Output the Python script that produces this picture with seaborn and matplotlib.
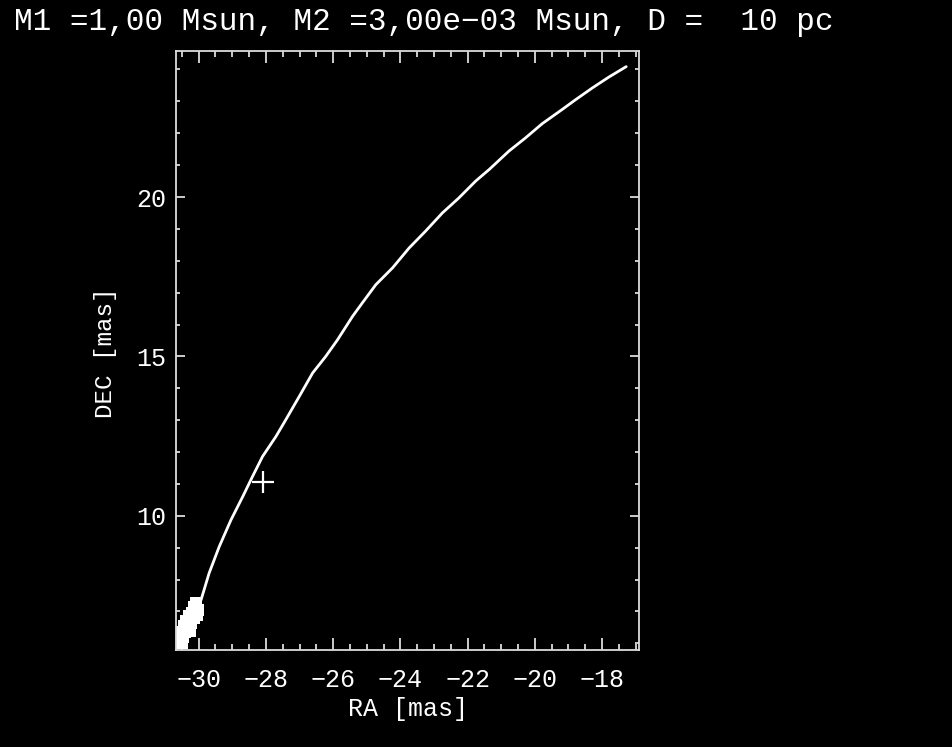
import numpy as np
import pandas as pd
import matplotlib
matplotlib.use("Agg")
import matplotlib.pyplot as plt
import seaborn as sns
from matplotlib.ticker import MultipleLocator

# Astrometric track of the primary (RA, DEC offsets in mas)
ra_track = [-30.55, -30.30, -29.93, -29.69, -29.39, -29.04, -28.69, -28.40,
            -28.10, -27.70, -27.41, -27.01, -26.61, -26.22, -25.87, -25.42,
            -25.13, -24.73, -24.23, -23.74, -23.25, -22.75, -22.26, -21.76,
            -21.36, -20.77, -20.27, -19.78, -19.18, -18.79, -18.29, -17.80,
            -17.28]
dec_track = [6.20, 6.85, 7.36, 8.20, 9.03, 9.87, 10.60, 11.23,
             11.86, 12.49, 13.01, 13.74, 14.48, 15.00, 15.52, 16.26,
             16.68, 17.25, 17.78, 18.40, 18.93, 19.50, 19.97, 20.50,
             20.86, 21.44, 21.86, 22.30, 22.75, 23.05, 23.42, 23.76,
             24.09]

# Dense group of positions at the start of the track
ra_group = [-30.08, -30.15, -30.10, -30.20, -30.13, -30.28, -30.22, -30.38,
            -30.30, -30.45, -30.40, -30.52, -30.48, -30.60, -30.55, -30.62,
            -30.05, -30.35, -30.02, -30.25, -30.50]
dec_group = [7.25, 7.15, 7.00, 6.95, 6.80, 6.85, 6.65, 6.70,
             6.50, 6.55, 6.35, 6.35, 6.20, 6.15, 6.05, 6.25,
             6.90, 6.45, 7.05, 6.40, 6.00]

# Reference position
ra_ref = [-28.10]
dec_ref = [11.07]

title_text = "M1 =1,00 Msun, M2 =3,00e\u221203 Msun, D =  10 pc"
x_label = "RA [mas]"
y_label = "DEC [mas]"

fg = "white"
axis_col = "#dcdcdc"
sns.set_style("dark", {"axes.facecolor": "black", "figure.facecolor": "black"})
plt.rcParams["font.family"] = ["Liberation Mono", "DejaVu Sans"]

fig = plt.figure(figsize=(9.52, 7.47), dpi=100)
ax = fig.add_axes([176 / 952, 1 - 650 / 747, (639 - 176) / 952, (650 - 51) / 747])
ax.set_facecolor("black")

track = pd.DataFrame({"RA": ra_track, "DEC": dec_track})
group = pd.DataFrame({"RA": ra_group, "DEC": dec_group})
ref = pd.DataFrame({"RA": ra_ref, "DEC": dec_ref})

sns.lineplot(data=track, x="RA", y="DEC", sort=False, color=fg, lw=2.0, ax=ax)
sns.scatterplot(data=group, x="RA", y="DEC", marker="s", s=80, color=fg,
                edgecolor=fg, linewidth=0, ax=ax)
sns.scatterplot(data=ref, x="RA", y="DEC", marker="+", s=240, color=fg,
                linewidth=1.6, ax=ax)

ax.set_xlim(-30.675, -16.90)
ax.set_ylim(5.79, 24.58)
ax.xaxis.set_major_locator(MultipleLocator(2))
ax.xaxis.set_minor_locator(MultipleLocator(0.5))
ax.yaxis.set_major_locator(MultipleLocator(5))
ax.yaxis.set_minor_locator(MultipleLocator(1))

ax.tick_params(which="both", direction="in", top=True, right=True,
               bottom=True, left=True, color=axis_col, width=1.3,
               labelcolor=fg, labelsize=18)
ax.tick_params(axis="x", which="major", length=8.6, pad=13)
ax.tick_params(axis="x", which="minor", length=4.3)
ax.tick_params(axis="y", which="major", length=6.5, pad=7)
ax.tick_params(axis="y", which="minor", length=3.2)
for s in ax.spines.values():
    s.set_color(axis_col)
    s.set_linewidth(1.3)
ax.grid(False)

ax.set_xlabel(x_label, color=fg, fontsize=18)
ax.set_ylabel(y_label, color=fg, fontsize=17.5)
ax.xaxis.set_label_coords(0.5, -0.078)
ax.yaxis.set_label_coords(-0.127, 0.497)

fig.text(424 / 952, 1 - 22 / 747, title_text, color=fg, fontsize=22.4,
         ha="center", va="center")

fig.savefig("out.png", dpi=100, facecolor="black")
